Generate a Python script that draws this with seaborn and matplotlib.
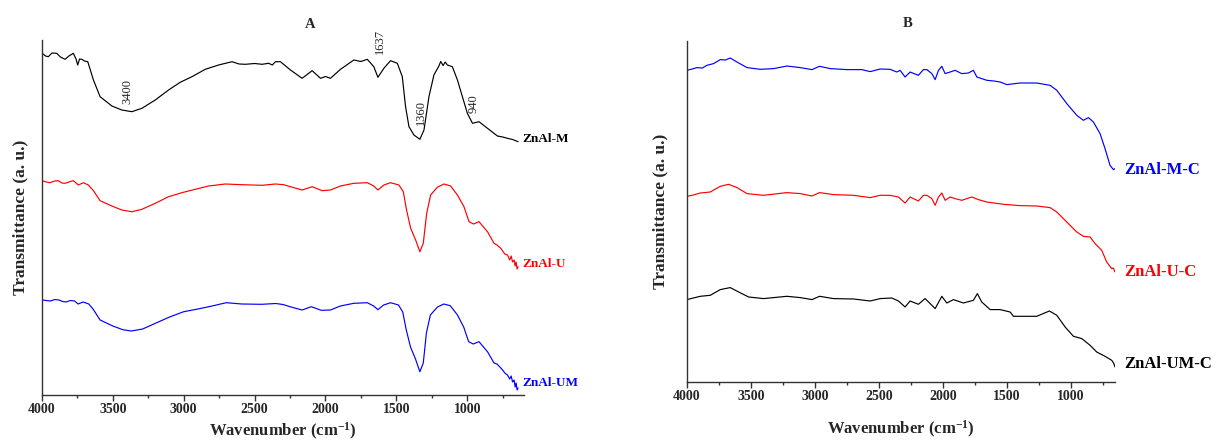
import seaborn as sns
import numpy as np
import pandas as pd
from matplotlib import pyplot as plt
from matplotlib.ticker import MultipleLocator

# ---- panel A: as-synthesised samples (wavenumber, transmittance a.u.) ----
wn_a_m = [3998, 3975, 3955, 3930, 3896, 3870, 3837, 3810, 3779, 3760, 3748, 3735, 3719, 3700,
          3677, 3637, 3590, 3507, 3437, 3366, 3295,
          3201, 3107, 3025, 2942, 2848, 2754, 2659, 2610, 2565, 2500, 2447, 2401, 2375, 2353,
          2318, 2247, 2165, 2094, 2035, 2000, 1965, 1894, 1800, 1750, 1705, 1659, 1630, 1588,
          1541, 1493, 1458, 1435, 1411, 1376, 1334, 1305, 1270, 1235, 1200, 1187, 1170, 1155,
          1140, 1105, 1069, 1034, 999, 963, 917, 857, 787, 750, 716, 680, 641]
tr_a_m = [341.7, 339, 338.3, 342, 341.7, 338, 335.7, 339, 341.7, 336, 330, 336, 335.7, 334,
          333.3, 315, 298.3, 289, 285, 283.3, 286.7,
          295, 305, 312.7, 318.3, 325.7, 330, 333.3, 331, 330.7, 331.5, 330.7, 331.7, 330, 333.3,
          333.3, 325, 316.7, 324.3, 316.7, 318.5, 316.7, 325.7, 335, 333.5, 335.7, 328.3, 317.7, 326.7,
          334.3, 331.7, 318.3, 288.3, 268.3, 260, 255.7, 265, 298.3, 320, 329, 333.5, 329.5, 333,
          330, 328.3, 315, 298.3, 281.7, 271.7, 273.3, 266.7, 259, 258, 256.7, 255.5, 253.3]

wn_a_u = [3998, 3970, 3943, 3910, 3885, 3860, 3837, 3800, 3779, 3743, 3708, 3673, 3637, 3590,
          3507, 3437, 3366, 3295,
          3201, 3107, 3013, 2919, 2825, 2707, 2589, 2447, 2353, 2295, 2247, 2165, 2094, 2023,
          1965, 1894, 1800, 1705, 1659, 1630, 1588, 1541, 1482, 1451, 1428, 1399, 1364, 1334,
          1310, 1286, 1258, 1211, 1164, 1117, 1069, 1023, 987, 956, 917, 857, 811, 790, 763,
          745, 735, 716, 700, 690, 680, 669, 662, 655, 648, 641]
tr_a_u = [214.3, 213, 212.3, 214, 214.3, 212, 211.7, 213.5, 214.3, 210, 212.3, 210, 204.3, 194.3,
          189, 185, 183.3, 185.7,
          191.7, 198.3, 202.3, 205.7, 209, 211, 210.3, 209.7, 211, 210.3, 208.3, 205, 208.3, 204.3,
          205, 209, 211.7, 212.3, 209, 205, 210, 212.3, 210, 203.3, 185, 166.7, 155, 143.3,
          151.7, 181.7, 200, 207.7, 211, 209, 200, 188.3, 173.3, 171, 173.3, 163.3, 151.7, 150, 146.7,
          143, 141, 140, 135, 139, 133, 135, 129, 133, 126, 128.3]

wn_a_um = [3998, 3970, 3940, 3910, 3880, 3855, 3830, 3800, 3770, 3745, 3710, 3670, 3640, 3590,
           3500, 3430, 3370, 3290,
           3200, 3100, 3000, 2900, 2800, 2700, 2590, 2450, 2350, 2300, 2250, 2165, 2100, 2030,
           1965, 1895, 1800, 1705, 1660, 1630, 1590, 1540, 1485, 1455, 1430, 1400, 1365, 1334,
           1310, 1288, 1260, 1210, 1165, 1120, 1070, 1025, 990, 958, 917, 857, 811, 790, 763,
           745, 735, 716, 700, 690, 680, 669, 662, 655, 648, 641]
tr_a_um = [95, 94.5, 94, 95.5, 95, 93.5, 93, 94.5, 94, 91, 93, 91, 86, 75,
           69, 65.3, 64, 66,
           71.7, 78, 83.3, 86, 89, 92.3, 91, 90.7, 91.5, 90.5, 88.3, 85, 88.3, 84.7,
           85, 89, 91.7, 92.3, 89, 85.3, 90, 92.3, 90, 83, 65, 48, 36, 23.3,
           32, 62, 80, 88, 91, 89.3, 80.3, 68, 53.3, 51, 53.3, 43.3, 32, 31, 27,
           24, 22, 20, 16, 19, 13, 15, 8, 12, 5, 7]

# ---- panel B: calcined samples ----
wn_b_m = [4000, 3960, 3922, 3880, 3844, 3792, 3740, 3700, 3662, 3609, 3531, 3427, 3323, 3219,
          3115, 3023, 2964, 2880, 2750, 2633, 2568, 2490, 2412, 2360, 2334, 2295, 2256, 2191,
          2152, 2125, 2086, 2060, 2034, 2008, 1982, 1943, 1904, 1852, 1800, 1761, 1734, 1656,
          1600, 1552, 1500, 1396, 1266, 1162, 1109, 1031, 953, 901, 862, 823, 771, 732, 693,
          667, 654]
tr_b_m = [311.7, 313, 314.4, 314, 316.7, 318.4, 322.4, 322, 324, 320, 314.4, 312.7, 313.4, 316,
          314.4, 312.4, 315.7, 313.4, 312.4, 312.4, 310.4, 313, 312.7, 310, 311.7, 305, 310, 306.7,
          312.4, 312.4, 308.4, 302.4, 311.7, 315.7, 308.4, 310, 311.7, 308.4, 309, 311.7, 305, 301.7,
          301, 300, 297.4, 299, 299, 296.7, 291.7, 278.4, 266.7, 261.7, 264.4, 260, 248.4, 233.4, 216.7,
          212.4, 213.4]

wn_b_u = [4000, 3950, 3896, 3818, 3740, 3675, 3609, 3531, 3401, 3219, 3115, 3023, 2964, 2855,
          2698, 2568, 2490, 2412, 2347, 2295, 2256, 2191, 2152, 2125, 2086, 2060, 2034, 2008,
          1982, 1943, 1904, 1852, 1774, 1722, 1656, 1526, 1396, 1266, 1162, 1109, 1031, 953,
          901, 849, 810, 758, 719, 680, 667, 654]
tr_b_u = [185.7, 187, 189, 190, 195.7, 197.7, 194.4, 188.4, 186.7, 189.4, 188.4, 186, 189.4, 187.4,
          186.7, 184.4, 186.7, 186.7, 185, 179, 185, 181, 186.7, 186.7, 183.4, 176.7, 185, 189,
          181.7, 185, 183.4, 181.7, 185, 182.4, 180, 177.7, 176.4, 176, 174.4, 170, 160, 150,
          145.7, 145, 138.4, 131.7, 120, 113.4, 114, 110]

wn_b_um = [4000, 3950, 3896, 3818, 3740, 3662, 3596, 3518, 3401, 3219, 3115, 3023, 2964, 2855,
           2698, 2568, 2490, 2399, 2347, 2295, 2256, 2191, 2139, 2125, 2060, 2008, 1969, 1917,
           1839, 1761, 1730, 1696, 1630, 1552, 1474, 1448, 1344, 1266, 1167, 1109, 1044, 979,
           914, 849, 797, 732, 680, 665, 654]
tr_b_um = [82.4, 84, 85.7, 86.7, 92.4, 94.4, 90, 85, 83.4, 85.7, 84.4, 82.4, 85.7, 83.4,
           83, 81, 83.4, 84, 81, 75, 81, 77.7, 83.4, 81.7, 73.4, 85.7, 79, 82.4,
           79, 81.7, 88.4, 80, 72.4, 72.4, 70, 65.7, 65.7, 65.7, 71, 66.7, 55, 45.7,
           43.4, 36.7, 30, 25.7, 21.7, 19, 15]

labels_a = ['ZnAl-M', 'ZnAl-U', 'ZnAl-UM']
labels_b = ['ZnAl-M-C', 'ZnAl-U-C', 'ZnAl-UM-C']
colors_a = ['black', 'red', 'blue']
colors_b = ['blue', 'red', 'black']
peaks = ['3400', '1637', '1360', '940']

sns.set_theme(style='ticks')
plt.rcParams['font.family'] = ['Liberation Serif', 'DejaVu Serif']
plt.rcParams['font.weight'] = 'bold'
plt.rcParams['mathtext.fontset'] = 'custom'
plt.rcParams['mathtext.rm'] = 'Liberation Serif:bold'
plt.rcParams['mathtext.it'] = 'Liberation Serif:bold'
plt.rcParams['mathtext.bf'] = 'Liberation Serif:bold'


def make_df(wns, trs, names):
    frames = []
    for w, t, n in zip(wns, trs, names):
        frames.append(pd.DataFrame({'wn': w, 'tr': t, 'sample': n}))
    return pd.concat(frames, ignore_index=True)


def style_axis(ax, xlim, ylim, ylab_x, xlab_y):
    ax.set_xlim(*xlim)
    ax.set_ylim(*ylim)
    sns.despine(ax=ax)
    for side in ['left', 'bottom']:
        ax.spines[side].set_linewidth(1.0)
        ax.spines[side].set_color('#333333')
    ax.set_yticks([])
    ax.xaxis.set_major_locator(MultipleLocator(500))
    ax.xaxis.set_minor_locator(MultipleLocator(250))
    ax.tick_params(axis='x', which='major', direction='out', length=4, width=1,
                   color='#333333', labelsize=10, pad=2)
    ax.tick_params(axis='x', which='minor', direction='out', length=2.5, width=1, color='#333333')
    for lab in ax.get_xticklabels():
        lab.set_fontweight('bold')
    ax.set_xlabel('Wavenumber (cm$^{-1}$)', fontsize=12, fontweight='bold')
    ax.set_ylabel('Transmittance (a. u.)', fontsize=12.5, fontweight='bold')
    ax.yaxis.set_label_coords(ylab_x, 0.5)
    ax.xaxis.set_label_coords(0.5, xlab_y)
    if ax.get_legend() is not None:
        ax.get_legend().remove()


fig = plt.figure(figsize=(12.17, 4.41), dpi=100)
ax_a = fig.add_axes([0.0345, 0.1043, 0.396, 0.805])
ax_b = fig.add_axes([0.5645, 0.1338, 0.3517, 0.7732])

df_a = make_df([wn_a_m, wn_a_u, wn_a_um], [tr_a_m, tr_a_u, tr_a_um], labels_a)
sns.lineplot(data=df_a, x='wn', y='tr', hue='sample', palette=colors_a, estimator=None,
             sort=False, linewidth=0.85, ax=ax_a)
style_axis(ax_a, (4000, 600), (0, 355), -0.029, -0.072)

for name, col, t in zip(labels_a, colors_a, [256, 131, 12]):
    ax_a.text(613, t, name, color=col, fontsize=9.5, fontweight='bold', va='center', ha='left',
              clip_on=False)

for lab, w, t in zip(peaks, [3395, 1618, 1330, 953], [303, 354, 282, 291]):
    ax_a.text(w, t, lab, rotation=90, fontsize=9, fontweight='normal', ha='center', va='center',
              clip_on=False)

ax_a.text(0.556, 1.045, 'A', transform=ax_a.transAxes, fontsize=10.5, fontweight='bold',
          ha='center', va='center')

df_b = make_df([wn_b_m, wn_b_u, wn_b_um], [tr_b_m, tr_b_u, tr_b_um], labels_b)
sns.lineplot(data=df_b, x='wn', y='tr', hue='sample', palette=colors_b, estimator=None,
             sort=False, linewidth=0.85, ax=ax_b)
style_axis(ax_b, (4000, 654), (0, 341), -0.044, -0.108)

for name, col, t in zip(labels_b, colors_b, [211.7, 110, 18]):
    ax_b.text(578, t, name, color=col, fontsize=12, fontweight='bold', va='center', ha='left',
              clip_on=False)

ax_b.text(0.516, 1.05, 'B', transform=ax_b.transAxes, fontsize=10.5, fontweight='bold',
          ha='center', va='center')

plt.savefig('out.png', dpi=100)
plt.close()
